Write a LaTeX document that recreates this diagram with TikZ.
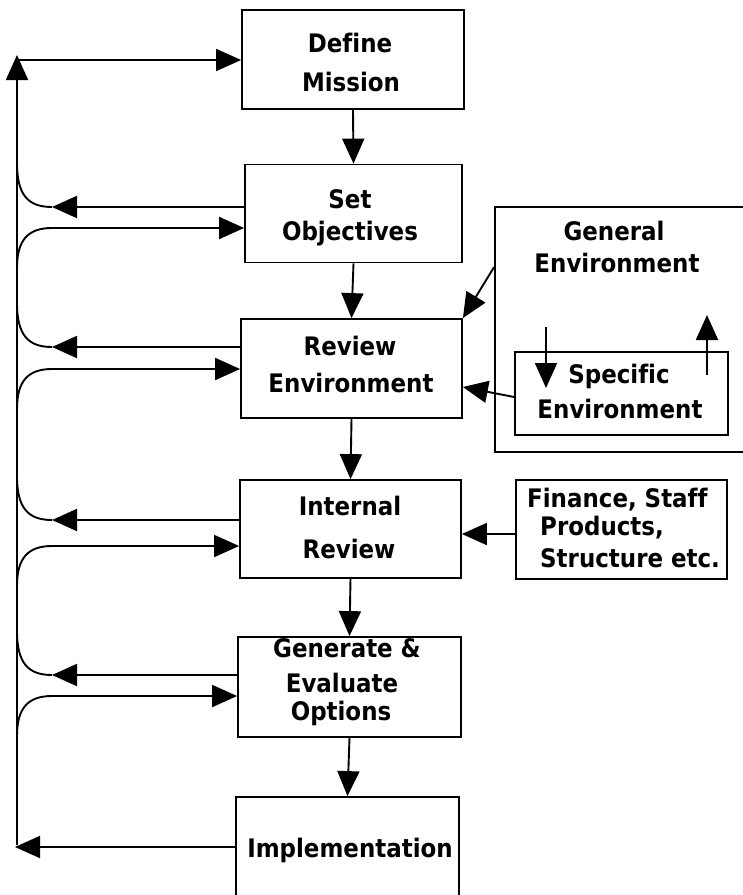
\documentclass[tikz,border=0pt]{standalone}
\usepackage{fontspec}
\setmainfont{DejaVu Sans Condensed}[Ligatures=NoCommon]
\usetikzlibrary{arrows.meta}
\begin{document}
\begin{tikzpicture}[x=1pt,y=-1pt,
  box/.style={draw,line width=1.8pt,inner sep=0pt,rectangle},
  lbl/.style={anchor=base,inner sep=0pt,font=\bfseries\fontsize{25.5}{30}\selectfont},
  lblw/.style={anchor=base west,inner sep=0pt,font=\bfseries\fontsize{25.5}{30}\selectfont},
  ln/.style={line width=1.9pt},
  arr/.style={line width=1.9pt,-{Triangle[length=25pt,width=22pt]}}]
\useasboundingbox (0,0) rectangle (743,895);
\clip (0,0) rectangle (743,895);
% main boxes
\node[box,minimum width=222pt,minimum height=99pt] (DM) at (353,59.5) {};
\node[box,minimum width=217pt,minimum height=98pt] (SO) at (353.5,213.5) {};
\node[box,minimum width=221pt,minimum height=99pt] (RE) at (351.5,368.5) {};
\node[box,minimum width=221pt,minimum height=98pt] (IR) at (350.5,529) {};
\node[box,minimum width=223pt,minimum height=100pt] (GEO) at (349.5,687) {};
\node[box,minimum width=223pt,minimum height=110pt] (IM) at (347.5,852) {};
% right boxes
\node[box,minimum width=270pt,minimum height=245pt] (GE) at (630,329.5) {};
\node[box,minimum width=213pt,minimum height=83pt] (SE) at (621.5,393.5) {};
\node[box,minimum width=211pt,minimum height=99pt] (FS) at (621.5,529.5) {};
% texts
\node[lbl] (t1a) at (350,52) {Define};
\node[lbl] (t1b) at (351,91) {Mission};
\node[lbl] (t2a) at (350,208) {Set};
\node[lbl] (t2b) at (350,240) {Objectives};
\node[lbl] (t3a) at (350,355) {Review};
\node[lbl] (t3b) at (351,392) {Environment};
\node[lbl] (t4a) at (350,515) {Internal};
\node[lbl] (t4b) at (349,558) {Review};
\node[lbl] (t5a) at (347,657) {Generate \&};
\node[lbl] (t5b) at (342,692) {Evaluate};
\node[lbl] (t5c) at (341,720) {Options};
\node[lbl] (t6a) at (350,857) {Implementation};
\node[lbl] (t7a) at (614,240) {General};
\node[lbl] (t7b) at (617,272) {Environment};
\node[lbl] (t8a) at (619,383) {Specific};
\node[lbl] (t8b) at (620,418) {Environment};
\node[lblw] (t9a) at (527,507) {Finance, Staff};
\node[lblw] (t9b) at (540,535) {Products,};
\node[lblw] (t9c) at (540,567) {Structure etc.};
% down arrows
\draw[arr] (DM.south) -- (SO.north);
\draw[arr] (SO.south) -- (RE.north);
\draw[arr] (RE.south) -- (IR.north);
\draw[arr] (IR.south) -- (GEO.north);
\draw[arr] (GEO.south) -- (IM.north);
% spine
\coordinate (sptop) at (17,55);
\coordinate (spbot) at (17,845);
\draw[arr] (spbot) -- (sptop);
\draw[arr] (17,60) -- (DM.west |- 0,60);
% feedback loops
\foreach \b/\o/\i in {SO/207/228, RE/347/369, IR/520/546, GEO/675/696} {
  \draw[arr] (\b.west |- 0,\o) -- (52,\o);
  \draw[ln] (52,\o) .. controls (28,\o) and (17,\o-12) .. (17,\o-44);
  \draw[arr] (17,\i+40) .. controls (17,\i+12) and (28,\i) .. (52,\i) -- (\b.west |- 0,\i);
}
\draw[arr] (IM.west |- 0,847) -- (15,847);
% right side arrows
\draw[arr] (GE.west |- 0,267) -- (RE.north east);
\draw[arr] (SE.west |- 0,397) -- (RE.east |- 0,387);
\draw[arr] (FS.west |- 0,534) -- (IR.east |- 0,534);
\coordinate (da1) at (546,327);
\coordinate (da2) at (546,388);
\coordinate (ua1) at (707,375);
\coordinate (ua2) at (707,315);
\draw[arr] (da1) -- (da2);
\draw[arr] (ua1) -- (ua2);
\end{tikzpicture}
\end{document}
